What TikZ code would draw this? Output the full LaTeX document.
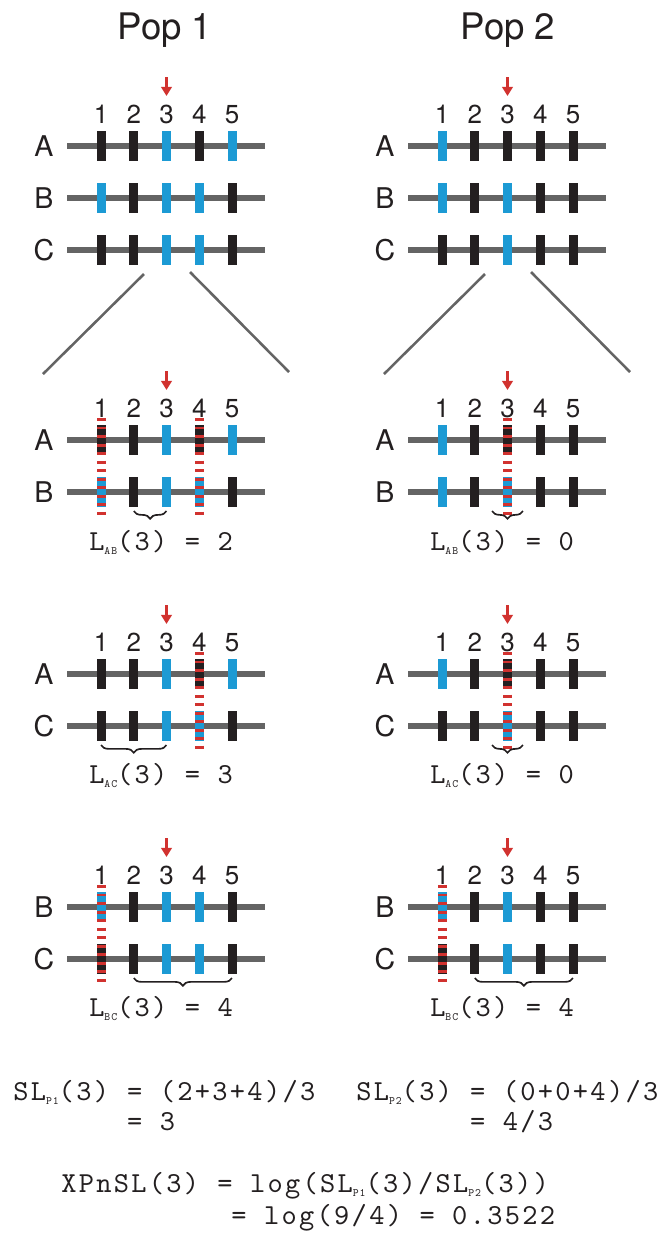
\documentclass[tikz,border=0pt]{standalone}
\usepackage{fontspec}
\setmainfont{TeX Gyre Heros}
\newfontfamily\codefont[Extension=.otf,LetterSpace=8]{lmmono10-regular}
\usetikzlibrary{arrows.meta}
\usetikzlibrary{decorations.pathreplacing}

\definecolor{snpblack}{RGB}{35,31,32}
\definecolor{snpblue}{RGB}{28,154,212}
\definecolor{hapgray}{RGB}{100,100,100}
\definecolor{markred}{RGB}{209,50,47}
\colorlet{anc}{snpblack}
\colorlet{der}{snpblue}

% small subscript inside the statistic labels
\newcommand{\lsub}[1]{\raisebox{-3pt}{\fontsize{8pt}{8pt}\selectfont #1}}
% x of site #2 in the block shifted by #1
\newcommand{\sx}[2]{#1+101+32.75*(#2-1)}

% site numbers 1..5 and the focal arrow over site 3
\newcommand{\sitehead}[3]{%
  \foreach \s in {1,...,5}{
    \node[poslabel] (#1-\s) at ({\sx{#2}{\s}},{#3-23}) {\s};
  }
  \coordinate (#1-top) at ({\sx{#2}{3}},{#3-69});
  \coordinate (#1-tip) at ({\sx{#2}{3}},{#3-50});
  \draw[focus] (#1-top) -- (#1-tip);
}

% one haplotype: line, row letter and five alleles
\newcommand{\haplo}[5]{%
  \draw[hapline] ({#2+67},#3) -- ({#2+265},#3);
  \node[rowlabel] (#1) at ({#2+44},{#3+10.5}) {#4};
  \foreach \clr [count=\s] in {#5}{
    \fill[fill=\clr] ({\sx{#2}{\s}-4.5},{#3-15}) rectangle +(9,30);
  }
}

% first mismatch between the two haplotypes of a pair
\newcommand{\mismatch}[4]{%
  \coordinate (#1-a) at ({\sx{#2}{#3}},{#4-22});
  \coordinate (#1-b) at ({\sx{#2}{#3}},{#4+74.5});
  \draw[diffline] (#1-a) -- (#1-b);
}

% brace under the shared run
\newcommand{\runbrace}[3]{%
  \draw[gapbrace] ({#2},{#3+19}) -- ({#1},{#3+19});
}

\begin{document}
\begin{tikzpicture}[x=0.025cm, y=-0.025cm,
  poptitle/.style={anchor=base, inner sep=0pt, text=snpblack,
    font=\fontsize{26pt}{27pt}\selectfont},
  rowlabel/.style={anchor=base, inner sep=0pt, text=snpblack,
    font=\fontsize{20.3pt}{21pt}\selectfont},
  poslabel/.style={anchor=base, inner sep=0pt, text=snpblack,
    font=\fontsize{18.5pt}{19pt}\selectfont},
  hapline/.style={draw=hapgray, line width=4pt},
  focus/.style={draw=markred, line width=1.8pt,
    -{Triangle[width=7.5pt,length=6.5pt]}},
  diffline/.style={draw=markred, line width=6.4pt,
    dash pattern=on 2.1pt off 3.96pt},
  gapbrace/.style={draw=snpblack, line width=1.2pt, decorate,
    decoration={brace, amplitude=5.5pt}},
  zoomline/.style={draw=hapgray, line width=1.8pt},
  stat/.style={anchor=base west, inner sep=0pt, text=snpblack,
    font={\codefont\fontsize{20.6pt}{22pt}\selectfont}}]
\useasboundingbox (0,0) rectangle (659,1239);

% population titles
\node[poptitle] (pop1) at (165,39) {Pop 1};
\node[poptitle] (pop2) at (508,39) {Pop 2};

% all three haplotypes, Pop 1
\sitehead{t1}{0}{146}
\haplo{t1A}{0}{146}{A}{anc,anc,der,anc,der}
\haplo{t1B}{0}{198}{B}{der,anc,der,der,anc}
\haplo{t1C}{0}{250}{C}{anc,anc,der,der,anc}

% all three haplotypes, Pop 2
\sitehead{t2}{341}{146}
\haplo{t2A}{341}{146}{A}{der,anc,anc,anc,anc}
\haplo{t2B}{341}{198}{B}{der,anc,der,anc,anc}
\haplo{t2C}{341}{250}{C}{anc,anc,der,anc,anc}

% zoom-out lines to the pairwise comparisons
\coordinate (z1a) at (144,274); \coordinate (z1b) at (43,374);
\coordinate (z1c) at (190,272); \coordinate (z1d) at (289,372);
\coordinate (z2a) at (485,274); \coordinate (z2b) at (384,374);
\coordinate (z2c) at (531,272); \coordinate (z2d) at (630,372);
\draw[zoomline] (z1a) -- (z1b);
\draw[zoomline] (z1c) -- (z1d);
\draw[zoomline] (z2a) -- (z2b);
\draw[zoomline] (z2c) -- (z2d);

% pair A-B
\sitehead{ab1}{0}{440}
\haplo{ab1A}{0}{440}{A}{anc,anc,der,anc,der}
\haplo{ab1B}{0}{492}{B}{der,anc,der,der,anc}
\mismatch{ab1m}{0}{1}{440}
\mismatch{ab1n}{0}{4}{440}
\runbrace{\sx{0}{2}}{\sx{0}{3}}{492}
\node[stat] (ab1L) at (89,550) {L\lsub{AB}(3) = 2};

\sitehead{ab2}{341}{440}
\haplo{ab2A}{341}{440}{A}{der,anc,anc,anc,anc}
\haplo{ab2B}{341}{492}{B}{der,anc,der,anc,anc}
\mismatch{ab2m}{341}{3}{440}
\runbrace{\sx{341}{3}-15.5}{\sx{341}{3}+15.5}{492}
\node[stat] (ab2L) at (430,550) {L\lsub{AB}(3) = 0};

% pair A-C
\sitehead{ac1}{0}{674}
\haplo{ac1A}{0}{674}{A}{anc,anc,der,anc,der}
\haplo{ac1C}{0}{726}{C}{anc,anc,der,der,anc}
\mismatch{ac1m}{0}{4}{674}
\runbrace{\sx{0}{1}}{\sx{0}{3}}{726}
\node[stat] (ac1L) at (89,783) {L\lsub{AC}(3) = 3};

\sitehead{ac2}{341}{674}
\haplo{ac2A}{341}{674}{A}{der,anc,anc,anc,anc}
\haplo{ac2C}{341}{726}{C}{anc,anc,der,anc,anc}
\mismatch{ac2m}{341}{3}{674}
\runbrace{\sx{341}{3}-15.5}{\sx{341}{3}+15.5}{726}
\node[stat] (ac2L) at (430,783) {L\lsub{AC}(3) = 0};

% pair B-C
\sitehead{bc1}{0}{907}
\haplo{bc1B}{0}{907}{B}{der,anc,der,der,anc}
\haplo{bc1C}{0}{959}{C}{anc,anc,der,der,anc}
\mismatch{bc1m}{0}{1}{907}
\runbrace{\sx{0}{2}}{\sx{0}{5}}{959}
\node[stat] (bc1L) at (89,1016) {L\lsub{BC}(3) = 4};

\sitehead{bc2}{341}{907}
\haplo{bc2B}{341}{907}{B}{der,anc,der,anc,anc}
\haplo{bc2C}{341}{959}{C}{anc,anc,der,anc,anc}
\mismatch{bc2m}{341}{1}{907}
\runbrace{\sx{341}{2}}{\sx{341}{5}}{959}
\node[stat] (bc2L) at (430,1016) {L\lsub{BC}(3) = 4};

% summaries
\node[stat] (sl1) at (13,1100) {SL\lsub{P1}(3)};
\node[stat] (sl1eq) at ([xshift=12.5pt]sl1.base east) {= (2+3+4)/3};
\node[stat] (sl1r) at ([yshift=-22pt]sl1eq.base west) {= 3};
\node[stat] (sl2) at (356,1100) {SL\lsub{P2}(3)};
\node[stat] (sl2eq) at ([xshift=12.5pt]sl2.base east) {= (0+0+4)/3};
\node[stat] (sl2r) at ([yshift=-22pt]sl2eq.base west) {= 4/3};
\node[stat] (xp) at (61,1192) {XPnSL(3)};
\node[stat] (xpeq) at ([xshift=12.5pt]xp.base east) {= log(SL\lsub{P1}(3)/SL\lsub{P2}(3))};
\node[stat] (xpr) at ([xshift=10pt,yshift=-23pt]xpeq.base west) {= log(9/4) = 0.3522};
\end{tikzpicture}
\end{document}
